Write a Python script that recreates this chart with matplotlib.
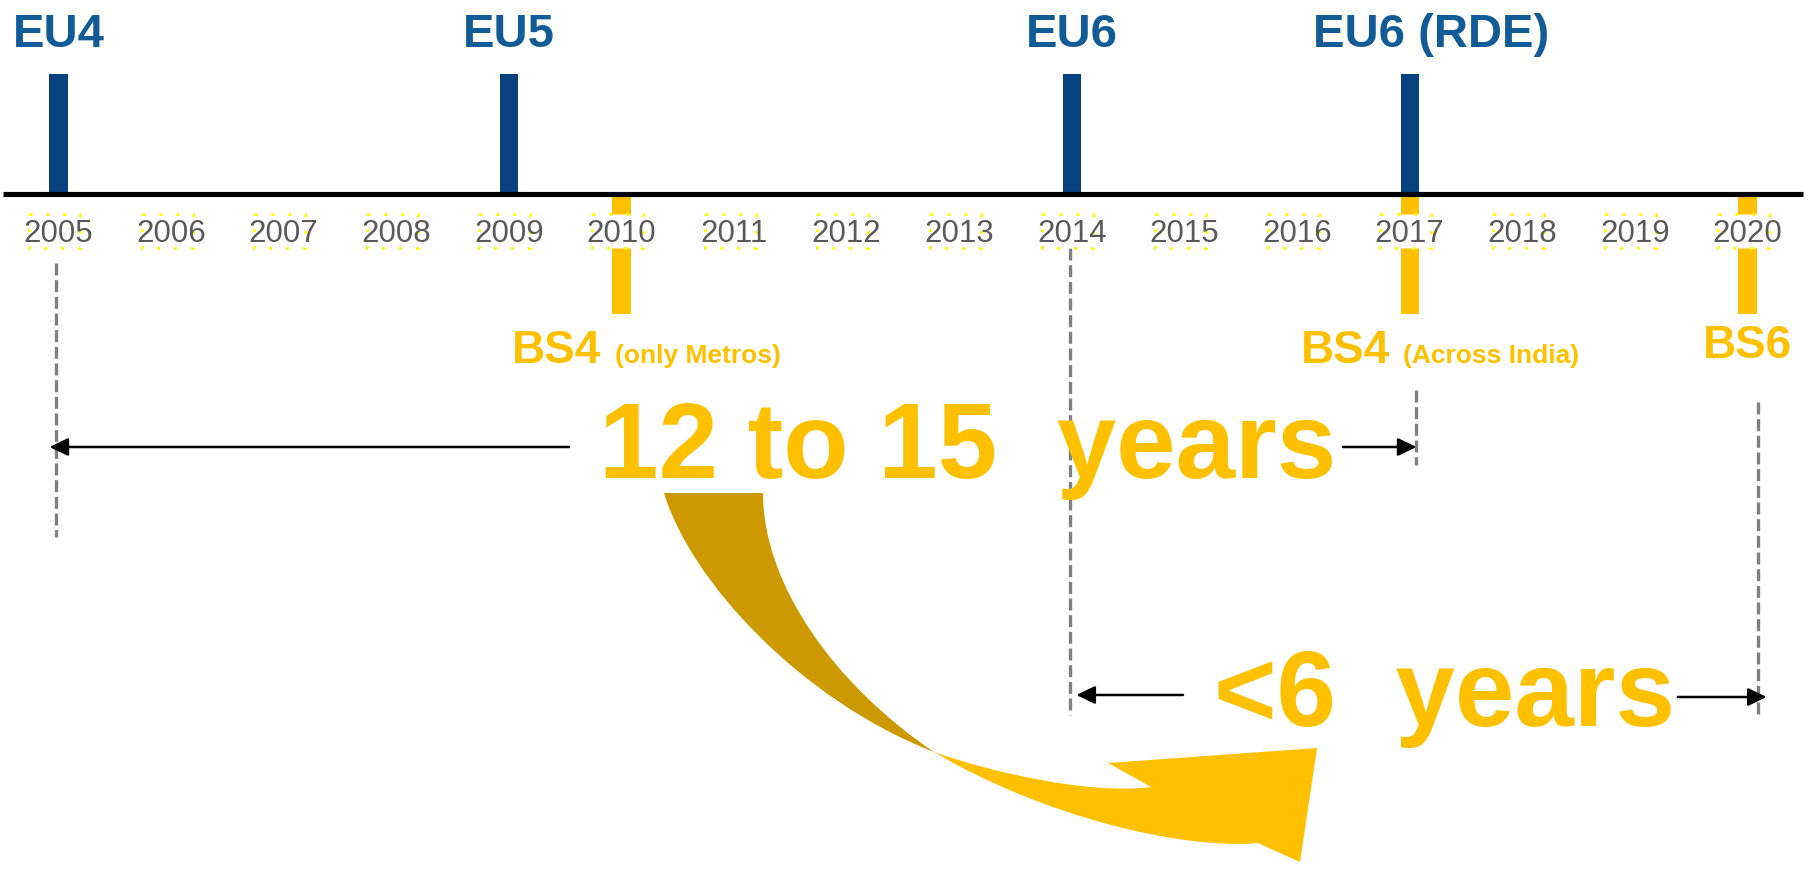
import matplotlib.pyplot as plt
from matplotlib.path import Path
from matplotlib.patches import PathPatch, Rectangle

# timeline data
years = list(range(2005, 2021))
eu_years = [2005, 2009, 2014, 2017]
eu_labels = ["EU4", "EU5", "EU6", "EU6 (RDE)"]
bs_years = [2010, 2017, 2020]
bs_labels = ["BS4", "BS4", "BS6"]
bs_notes = ["(only Metros)", "(Across India)", ""]

# the two gaps that are compared
gap_long_text = "12 to 15  years"
gap_long_span = [2004.92, 2017.06]      # EU4 -> BS4 across India
gap_short_text = "<6  years"
gap_short_span = [2014.04, 2020.17]     # EU6 -> BS6

W, H = 1809, 869
PX_PER_YEAR = 112.6
X0 = 2005 - 58.5 / PX_PER_YEAR

BLUE_TXT = "#115b96"
BLUE_BAR = "#08417f"
YELLOW = "#ffc000"
GOLD = "#cc9a00"
GREY = "#808080"

plt.rcParams['font.family'] = ['Liberation Sans', 'DejaVu Sans']

fig = plt.figure(figsize=(W / 100, H / 100), dpi=100)
ax = fig.add_axes([0, 0, 1, 1])
ax.set_xlim(X0, X0 + W / PX_PER_YEAR)
ax.set_ylim(H, 0)   # vertical layout in pixels, top = 0
ax.axis('off')

AXIS_Y = 194
bar_w = 18.4 / PX_PER_YEAR

# main axis line
ax.plot([X0 + 3 / PX_PER_YEAR, X0 + 1803 / PX_PER_YEAR], [AXIS_Y, AXIS_Y],
        color="black", lw=3.7, solid_capstyle="butt", zorder=4)

# EU bars above the line, BS bars below
ax.bar(eu_years, -(AXIS_Y - 74), bottom=AXIS_Y, width=bar_w, color=BLUE_BAR, zorder=3)
ax.bar(bs_years, 314 - AXIS_Y, bottom=AXIS_Y, width=bar_w, color=YELLOW, zorder=2)

for yr, lab in zip(eu_years, eu_labels):
    dx = 0.19 if "(" in lab else 0.0
    ax.text(yr + dx, 47, lab, ha="center", va="baseline", fontsize=34,
            fontweight="bold", color=BLUE_TXT, zorder=6)

# year labels with the dotted yellow boxes
for yr in years:
    ax.add_patch(Rectangle((yr - 0.262, 214), 0.453, 34, facecolor="white",
                           edgecolor="#ffff00", lw=2.1, linestyle=(0, (1, 4.8)),
                           zorder=4))
    ax.text(yr, 242.5, str(yr), ha="center", va="baseline", fontsize=22.5,
            color="#595959", zorder=5)

# BS labels
renderer = fig.canvas.get_renderer()
inv = ax.transData.inverted()
for yr, lab, note in zip(bs_years, bs_labels, bs_notes):
    if note:
        t = ax.text(yr - 0.97, 363, lab, ha="left", va="baseline", fontsize=33,
                    fontweight="bold", color=YELLOW, zorder=6)
        bb = t.get_window_extent(renderer=renderer)
        x_end = inv.transform((bb.x1, 0))[0]
        ax.text(x_end + 0.12, 363, note, ha="left", va="baseline", fontsize=19,
                fontweight="bold", color=YELLOW, zorder=6)
    else:
        ax.text(yr, 358, lab, ha="center", va="baseline", fontsize=33,
                fontweight="bold", color=YELLOW, zorder=6)

# dashed guide lines
dash = dict(color=GREY, lw=2.4, linestyle=(0, (3.6, 1.4)), zorder=1)
ax.plot([2004.978, 2004.978], [263, 537], **dash)
ax.plot([2013.983, 2013.983], [248, 715], **dash)
ax.plot([2017.056, 2017.056], [390, 465], **dash)
ax.plot([2020.09, 2020.09], [402, 717], **dash)

# big gap texts
ax.text(2013.07, 478, gap_long_text, ha="center", va="baseline", fontsize=77,
        fontweight="bold", color=YELLOW, zorder=5)
ax.text(2017.31, 726, gap_short_text, ha="center", va="baseline", fontsize=77,
        fontweight="bold", color=YELLOW, zorder=5)

arrow = dict(arrowstyle="-|>,head_length=0.56,head_width=0.27", color="black",
             lw=1.8, shrinkA=0, shrinkB=0, mutation_scale=20)
ax.annotate("", xy=(gap_long_span[0], 447), xytext=(2009.533, 447), arrowprops=arrow, zorder=6)
ax.annotate("", xy=(gap_long_span[1], 447), xytext=(2016.408, 447), arrowprops=arrow, zorder=6)
ax.annotate("", xy=(gap_short_span[0], 695), xytext=(2014.987, 695), arrowprops=arrow, zorder=6)
ax.annotate("", xy=(gap_short_span[1], 697), xytext=(2019.381, 697), arrowprops=arrow, zorder=6)

# curved swoosh arrow, drawn on a pixel overlay
deco = fig.add_axes([0, 0, 1, 1])
deco.set_xlim(0, W)
deco.set_ylim(H, 0)
deco.axis('off')
deco.patch.set_alpha(0)

M, L, C, CL = Path.MOVETO, Path.LINETO, Path.CURVE4, Path.CLOSEPOLY
back_pts = [(664, 493), (763, 493), (763, 585), (835, 685), (934, 752),
            (800, 700), (690, 580), (664, 493), (664, 493)]
back_codes = [M, L, C, C, C, C, C, C, CL]
front_pts = [(934, 752), (990, 772), (1090, 795), (1151, 787), (1108, 763),
             (1317, 748), (1300, 862), (1258, 843), (1180, 850), (1040, 815),
             (934, 752), (934, 752)]
front_codes = [M, C, C, C, L, L, L, L, C, C, C, CL]
deco.add_patch(PathPatch(Path(back_pts, back_codes), facecolor=GOLD, edgecolor="none"))
deco.add_patch(PathPatch(Path(front_pts, front_codes), facecolor=YELLOW, edgecolor="none"))

fig.savefig("out.png", dpi=100)
